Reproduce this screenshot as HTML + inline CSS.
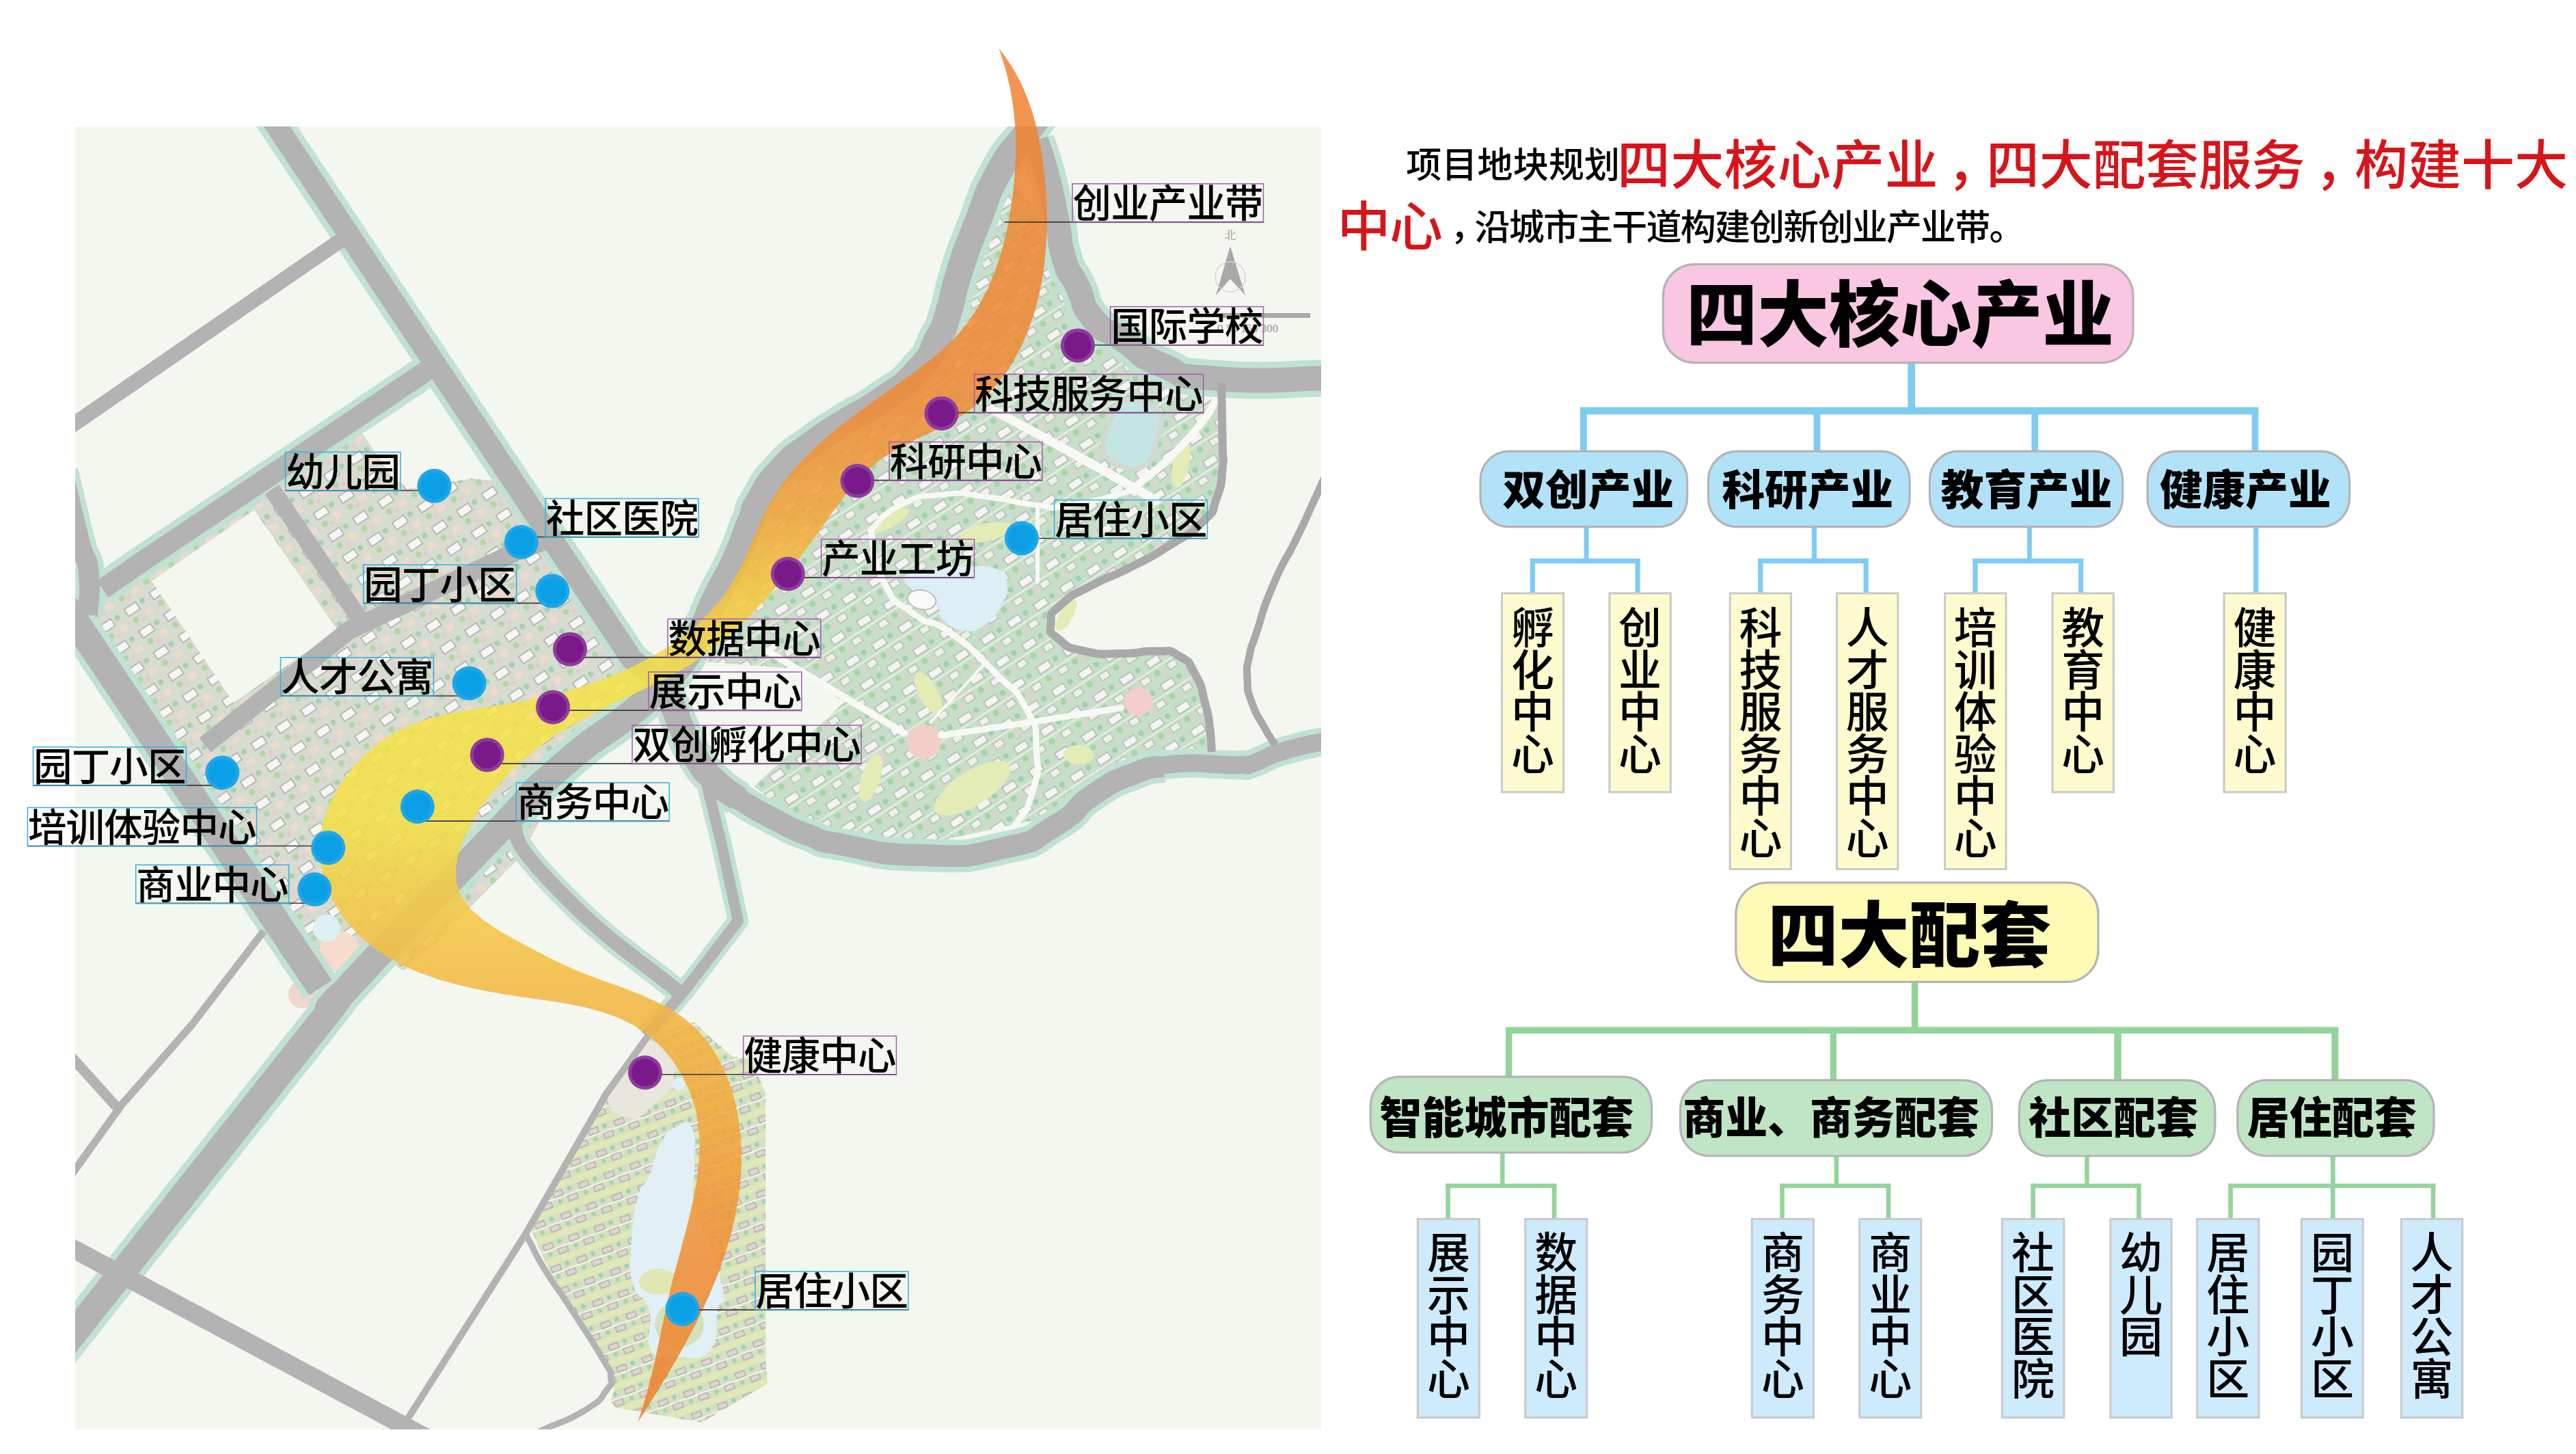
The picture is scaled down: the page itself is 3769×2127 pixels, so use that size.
<!DOCTYPE html><html lang="zh"><head><meta charset="utf-8"><title>项目地块规划</title>
<style>html,body{margin:0;padding:0;background:#fff}body{width:3769px;height:2127px;overflow:hidden;position:relative}svg{position:absolute;left:0;top:0}text{font-family:"Liberation Sans","Noto Sans CJK SC",sans-serif}</style></head><body>
<svg xmlns="http://www.w3.org/2000/svg" width="3769" height="2127" viewBox="0 0 3769 2127">
<defs>
<clipPath id="mapclip"><rect x="110" y="185" width="1823" height="1906"/></clipPath>
<linearGradient id="rib" gradientUnits="userSpaceOnUse" x1="0" y1="70" x2="0" y2="2090">
<stop offset="0" stop-color="#ee8234"/>
<stop offset="0.26" stop-color="#f08a35"/>
<stop offset="0.335" stop-color="#f3a238"/>
<stop offset="0.40" stop-color="#f5c83e"/>
<stop offset="0.455" stop-color="#f5e248"/>
<stop offset="0.56" stop-color="#f4e046"/>
<stop offset="0.61" stop-color="#f5cc44"/>
<stop offset="0.68" stop-color="#f4b840"/>
<stop offset="0.78" stop-color="#f3a53a"/>
<stop offset="0.88" stop-color="#f08c32"/>
<stop offset="1" stop-color="#ee7f2c"/>
</linearGradient>
<pattern id="tex" width="46" height="40" patternUnits="userSpaceOnUse" patternTransform="rotate(-33)">
<rect width="46" height="40" fill="#c7dfc9"/>
<rect x="4" y="5" width="20" height="11" fill="#f4f4f2" stroke="#a9a9a9" stroke-width="1.2"/>
<rect x="28" y="24" width="14" height="10" fill="#eef0ea" stroke="#a9a9a9" stroke-width="1"/>
<circle cx="34" cy="9" r="4" fill="#9fcfb4"/><circle cx="10" cy="28" r="4.5" fill="#a8d4a6"/><circle cx="20" cy="33" r="3" fill="#f2c9d0"/>
<rect x="0" y="19" width="46" height="2.5" fill="#e6ecdf"/>
</pattern>
<pattern id="tex2" width="40" height="34" patternUnits="userSpaceOnUse" patternTransform="rotate(-20)">
<rect width="40" height="34" fill="#d3e1c1"/>
<rect x="0" y="0" width="40" height="9" fill="#e0e8b8"/>
<rect x="3" y="12" width="14" height="8" fill="#dcd5d0" stroke="#a8a5a2" stroke-width="1.2"/>
<rect x="22" y="24" width="14" height="8" fill="#dcd5d0" stroke="#a8a5a2" stroke-width="1.2"/>
<circle cx="28" cy="14" r="3.2" fill="#9fcfb4"/><circle cx="9" cy="28" r="3.2" fill="#a8d4a6"/>
<rect x="0" y="21" width="40" height="2.2" fill="#f2f4ec"/>
</pattern>
<pattern id="tex3" width="44" height="38" patternUnits="userSpaceOnUse" patternTransform="rotate(-34)">
<rect width="44" height="38" fill="#d6dccf"/>
<rect x="4" y="5" width="20" height="12" fill="#f6f6f4" stroke="#a0a0a0" stroke-width="1.3"/>
<rect x="27" y="22" width="12" height="10" fill="#f0d9cf"/>
<circle cx="33" cy="9" r="4" fill="#a6d0b4"/><circle cx="10" cy="27" r="4.5" fill="#b4d6a6"/><circle cx="20" cy="32" r="3" fill="#efc4cf"/>
</pattern>
</defs>
<g clip-path="url(#mapclip)">
<rect x="110" y="185" width="1823" height="1906" fill="#f3f7ef"/>
<path d="M1478.0,262.0 L1528.0,322.0 L1539.0,382.0 L1558.0,425.0 L1583.0,476.0 L1630.0,512.0 L1692.0,551.0 L1782.0,573.0 L1788.7,650.0 L1788.7,684.0 L1780.0,729.0 L1759.5,763.5 L1711.0,798.0 L1656.0,829.0 L1598.0,856.0 L1553.0,884.0 L1537.7,911.0 L1549.7,935.4 L1587.6,952.6 L1642.6,956.0 L1690.7,952.6 L1725.0,959.5 L1749.0,987.0 L1763.0,1028.0 L1769.8,1062.6 L1773.0,1100.0 L1725.0,1100.0 L1656.0,1117.0 L1600.0,1155.0 L1522.0,1198.0 L1350.0,1235.0 L1234.0,1220.0 L1150.0,1192.0 L1104.0,1150.0 L1234.0,1028.0 L1172.0,979.0 L1030.0,968.0 L1022.0,928.0 L1048.0,873.0 L1076.0,818.0 L1097.0,765.0 L1111.0,731.0 L1143.0,687.0 L1185.0,651.0 L1235.0,618.0 L1288.0,586.0 L1343.0,542.0 L1373.0,494.0 L1387.0,461.0 L1405.0,395.0 L1429.0,328.0 L1455.0,275.0" fill="url(#tex)"/>
<path d="M1323.9,851.0 C1318.9,838.6 1325.5,841.3 1348.7,835.4 C1371.9,829.5 1381.9,829.9 1410.9,829.0 C1439.9,828.1 1441.0,826.1 1457.6,832.0 C1474.2,837.9 1470.5,837.7 1473.0,851.0 C1475.5,864.3 1475.3,865.5 1467.0,882.0 C1458.7,898.5 1456.9,902.2 1442.0,913.0 C1427.1,923.8 1427.5,924.0 1411.0,922.4 C1394.5,920.8 1391.6,917.8 1380.0,907.0 C1368.4,896.2 1382.4,896.9 1367.4,882.0 C1352.4,867.1 1328.9,863.4 1323.9,851.0Z" fill="#dceff6"/>
<ellipse cx="1348.7" cy="877.3" rx="21" ry="14" fill="#fafafa" stroke="#bdbdbd" stroke-width="2" transform="rotate(12 1348.7 877.3)"/>
<rect x="1620" y="585" width="74" height="100" rx="30" fill="#c3e6e4" stroke="#d2d8d2" stroke-width="7" transform="rotate(18 1657 635)"/>
<ellipse cx="1423" cy="1153" rx="64" ry="25" fill="#e4ecb6" transform="rotate(-32 1423 1153)"/>
<ellipse cx="1274" cy="1138" rx="14" ry="36" fill="#e4ecb6" transform="rotate(18 1274 1138)"/>
<ellipse cx="1358" cy="1014" rx="14" ry="34" fill="#e4ecb6" transform="rotate(-28 1358 1014)"/>
<ellipse cx="1578" cy="1104" rx="22" ry="14" fill="#e4ecb6" transform="rotate(0 1578 1104)"/>
<ellipse cx="1442" cy="779" rx="40" ry="13" fill="#e4ecb6" transform="rotate(-12 1442 779)"/>
<ellipse cx="1728" cy="680" rx="12" ry="34" fill="#e4ecb6" transform="rotate(12 1728 680)"/>
<ellipse cx="1560" cy="900" rx="10" ry="26" fill="#e4ecb6" transform="rotate(30 1560 900)"/>
<ellipse cx="1300" cy="762" rx="34" ry="10" fill="#e4ecb6" transform="rotate(-30 1300 762)"/>
<circle cx="1351.6" cy="1085" r="25" fill="#f1cfc8"/>
<circle cx="1665.6" cy="1026" r="21" fill="#f3cdd0"/>
<circle cx="1392" cy="1283" r="0" fill="none"/>
<path d="M1457.6,602.0 C1491.7,620.7 1492.7,620.7 1560.0,658.0 C1627.3,695.3 1616.0,689.1 1659.6,714.0 C1703.2,738.9 1680.3,726.5 1690.7,732.8" fill="none" stroke="#f8f9f5" stroke-width="13" stroke-linecap="round"/>
<path d="M1659.6,714.0 C1685.5,690.2 1695.9,688.3 1737.4,642.6 C1778.9,596.9 1768.5,598.9 1784.0,577.0" fill="none" stroke="#f8f9f5" stroke-width="11" stroke-linecap="round"/>
<path d="M1274.0,776.0 C1288.5,763.7 1282.3,756.5 1317.6,739.0 C1352.9,721.5 1338.3,727.6 1379.8,723.4 C1421.3,719.2 1396.4,721.3 1442.0,726.5 C1487.6,731.7 1475.1,734.8 1516.6,739.0 C1558.1,743.2 1518.7,746.3 1566.4,739.0 C1614.1,731.7 1628.5,724.3 1659.6,717.0" fill="none" stroke="#f8f9f5" stroke-width="8" stroke-linecap="round"/>
<path d="M1274.0,776.0 C1280.3,801.0 1272.0,810.5 1292.8,851.0 C1313.6,891.5 1303.2,872.3 1336.3,897.5 C1369.4,922.7 1352.7,898.2 1392.0,926.6 C1431.3,955.0 1417.9,946.3 1454.2,982.6 C1490.5,1018.9 1480.1,997.2 1500.8,1035.5 C1521.5,1073.8 1513.3,1056.2 1516.4,1097.6 C1519.5,1139.0 1520.6,1123.5 1510.2,1159.8 C1499.8,1196.1 1498.8,1185.8 1485.3,1206.5 C1471.8,1227.2 1474.9,1216.8 1469.7,1222.0" fill="none" stroke="#f8f9f5" stroke-width="9" stroke-linecap="round"/>
<path d="M1518.0,739.0 L1518.0,851.0" fill="none" stroke="#f8f9f5" stroke-width="6" stroke-linecap="round"/>
<path d="M1121.5,951.5 L1323.6,1072.8" fill="none" stroke="#f8f9f5" stroke-width="10" stroke-linecap="round"/>
<path d="M1376.5,1076.0 C1419.0,1069.7 1415.9,1070.5 1504.0,1057.0 C1592.1,1043.5 1595.1,1042.7 1640.7,1035.5" fill="none" stroke="#f8f9f5" stroke-width="9" stroke-linecap="round"/>
<path d="M1361.0,1057.0 L1438.6,973.3" fill="none" stroke="#f8f9f5" stroke-width="4" stroke-linecap="round"/>
<path d="M150.0,862.0 L636.0,534.5 L925.0,965.0 L976.0,1006.0 L931.0,1037.0 L814.0,1127.0 L715.0,1230.0 L510.0,1444.0 L469.0,1445.0 L100.0,893.0 L110.0,870.0" fill="url(#tex3)"/>
<path d="M222.0,850.0 L372.0,746.0 L494.0,922.0 L342.0,1028.0" fill="#f3f7ef"/>
<path d="M530.0,634.0 L636.0,562.0 L740.0,705.0 L690.0,700.0 L600.0,715.0 L575.0,700.0" fill="#f3f7ef"/>
<path d="M715.0,1230.0 L760.0,1185.0 L790.0,1200.0 L760.0,1255.0 L700.0,1315.0 L640.0,1378.0 L590.0,1420.0 L560.0,1400.0" fill="url(#tex3)"/>
<path d="M945.0,1515.0 L1015.0,1495.0 L1070.0,1545.0 L1100.0,1550.0 L1120.0,1600.0 L1120.4,1990.0 L1123.0,2024.0 L1027.0,2081.0 L901.0,2059.0 L893.0,2051.0 L899.0,2033.0 L891.0,1995.0 L856.0,1946.0 L818.0,1888.0 L794.0,1838.0 L778.0,1800.0 L887.0,1600.0" fill="url(#tex2)"/>
<path d="M945.0,1517.0 L990.0,1540.0 L985.0,1590.0 L930.0,1640.0 L893.0,1625.0 L887.0,1600.0" fill="#e9e6dd"/>
<path d="M990.0,1648.0 C1002.3,1641.6 1005.1,1636.1 1012.0,1650.0 C1018.9,1663.9 1015.2,1670.7 1016.0,1700.0 C1016.8,1729.3 1011.3,1733.3 1015.0,1760.0 C1018.7,1786.7 1018.5,1765.9 1030.0,1800.0 C1041.5,1834.1 1052.7,1856.8 1058.0,1888.0 C1063.3,1919.2 1055.1,1893.8 1050.0,1917.0 C1044.9,1940.2 1054.5,1956.9 1039.0,1975.0 C1023.5,1993.1 1014.9,1985.0 992.0,1985.0 C969.1,1985.0 964.2,1993.1 953.0,1975.0 C941.8,1956.9 957.2,1942.9 950.0,1917.0 C942.8,1891.1 932.9,1903.9 926.0,1878.0 C919.1,1852.1 922.1,1853.6 924.0,1820.0 C925.9,1786.4 926.1,1778.7 933.0,1752.0 C939.9,1725.3 941.2,1740.8 950.0,1720.0 C958.8,1699.2 955.3,1693.2 966.0,1674.0 C976.7,1654.8 977.7,1654.4 990.0,1648.0Z" fill="#e1f0f6"/>
<ellipse cx="963" cy="1875" rx="28" ry="19" fill="#dfe8b4"/>
<ellipse cx="994" cy="1937" rx="36" ry="34" fill="#d3e2bd"/>
<ellipse cx="993" cy="1586" rx="10" ry="9" fill="#e1f0f6"/>
<circle cx="442" cy="1455" r="20" fill="#f0d6cc"/>
<circle cx="497" cy="1392" r="30" fill="#f5dccb"/>
<circle cx="478" cy="1358" r="20" fill="#dff0f5"/>
<path d="M60.0,2011.0 C120.6,1934.7 106.6,1952.3 241.7,1782.0 C376.8,1611.7 376.0,1612.7 465.4,1500.0 C554.8,1387.3 426.6,1534.0 509.8,1444.0 C593.0,1354.0 613.4,1335.7 715.0,1230.0 C816.6,1124.3 742.7,1191.3 814.7,1127.0 C886.7,1062.7 874.2,1084.3 931.0,1037.0 C987.8,989.7 954.7,1021.3 985.0,985.0 C1015.3,948.7 1001.0,965.3 1022.0,928.0 C1043.0,890.7 1030.0,909.7 1048.0,873.0 C1066.0,836.3 1059.7,854.0 1076.0,818.0 C1092.3,782.0 1085.2,793.9 1097.0,765.0 C1108.8,736.1 1096.0,757.3 1111.4,731.2 C1126.8,705.1 1118.6,713.3 1143.2,686.7 C1167.8,660.1 1154.5,674.3 1185.2,651.3 C1215.9,628.3 1201.2,639.4 1235.4,617.8 C1269.6,596.2 1252.1,611.6 1287.9,586.4 C1323.7,561.2 1314.3,573.1 1342.7,542.2 C1371.1,511.3 1358.4,520.7 1373.0,493.6 C1387.6,466.5 1376.1,493.8 1386.6,460.9 C1397.1,428.0 1390.4,439.2 1404.6,395.0 C1418.8,350.8 1410.3,375.8 1429.1,328.2 C1447.9,280.6 1437.2,296.3 1461.1,252.3 C1485.0,208.3 1479.2,226.6 1500.8,196.3 C1522.4,166.0 1517.5,173.0 1525.8,161.4" fill="none" stroke="#bfe2d3" stroke-width="57" stroke-linejoin="round"/>
<path d="M395.0,170.0 L925.0,965.0 L976.0,1006.0" fill="none" stroke="#bfe2d3" stroke-width="50" stroke-linejoin="round"/>
<path d="M966.0,1000.0 C972.3,1011.7 974.7,1013.5 985.0,1035.0 C995.3,1056.5 986.5,1041.1 997.0,1064.5 C1007.5,1087.9 1000.3,1079.5 1016.5,1105.3 C1032.7,1131.1 1024.3,1121.0 1045.6,1142.0 C1066.9,1163.0 1068.9,1159.6 1080.5,1168.4" fill="none" stroke="#bfe2d3" stroke-width="53" stroke-linejoin="round"/>
<path d="M966.0,1000.0 C972.3,1011.7 974.7,1013.5 985.0,1035.0 C995.3,1056.5 986.5,1041.1 997.0,1064.5 C1007.5,1087.9 1000.3,1079.5 1016.5,1105.3 C1032.7,1131.1 1024.3,1121.0 1045.6,1142.0 C1066.9,1163.0 1051.4,1149.6 1080.5,1168.4 C1109.6,1187.2 1099.3,1180.9 1132.9,1198.4 C1166.5,1215.9 1147.7,1208.3 1181.4,1220.8 C1215.1,1233.3 1177.8,1225.9 1234.0,1236.0 C1290.2,1246.1 1272.5,1249.3 1350.0,1251.0 C1427.5,1252.7 1401.8,1255.5 1466.5,1241.0 C1531.2,1226.5 1498.8,1234.3 1544.0,1207.6 C1589.2,1180.9 1563.1,1186.5 1602.0,1161.0 C1640.9,1135.5 1627.9,1144.3 1660.6,1131.0 C1693.3,1117.7 1686.9,1124.3 1700.0,1121.0" fill="none" stroke="#bfe2d3" stroke-width="48" stroke-linejoin="round"/>
<path d="M1690.0,1121.0 C1706.0,1119.5 1709.0,1117.4 1738.0,1116.4 C1767.0,1115.4 1751.0,1117.1 1777.0,1118.0 C1803.0,1118.9 1796.7,1119.7 1816.0,1119.0 C1835.3,1118.3 1813.7,1123.0 1835.0,1116.0 C1856.3,1109.0 1843.3,1109.0 1880.0,1098.0 C1916.7,1087.0 1923.3,1088.0 1945.0,1083.0" fill="none" stroke="#bfe2d3" stroke-width="42" stroke-linejoin="round"/>
<path d="M1516.0,205.0 C1521.7,223.3 1523.0,221.7 1533.0,260.0 C1543.0,298.3 1538.0,280.3 1546.0,320.0 C1554.0,359.7 1547.0,346.3 1557.0,379.0 C1567.0,411.7 1561.7,388.7 1576.0,418.0 C1590.3,447.3 1577.7,440.7 1600.0,467.0 C1622.3,493.3 1609.7,474.7 1643.0,497.0 C1676.3,519.3 1653.7,515.0 1700.0,534.0 C1746.3,553.0 1700.3,547.7 1782.0,554.0 C1863.7,560.3 1890.7,553.3 1945.0,553.0" fill="none" stroke="#bfe2d3" stroke-width="54" stroke-linejoin="round"/>
<path d="M636.0,534.5 L203.0,825.0 L150.0,862.0" fill="none" stroke="#bfe2d3" stroke-width="48" stroke-linejoin="round"/>
<path d="M92.0,690.0 C96.7,710.0 97.3,714.0 106.0,750.0 C114.7,786.0 110.0,768.0 118.0,798.0 C126.0,828.0 126.7,806.0 130.0,840.0 C133.3,874.0 128.7,880.0 128.0,900.0" fill="none" stroke="#bfe2d3" stroke-width="46" stroke-linejoin="round"/>
<path d="M95.0,886.0 L469.0,1445.0" fill="none" stroke="#bfe2d3" stroke-width="58" stroke-linejoin="round"/>
<path d="M745.0,1195.0 C768.3,1230.0 732.0,1214.3 815.0,1300.0 C898.0,1385.7 934.3,1401.3 994.0,1452.0" fill="none" stroke="#bfe2d3" stroke-width="35" stroke-linejoin="round"/>
<path d="M1028.0,1122.0 L1047.5,1202.0 L1055.0,1232.0 L1080.0,1347.0 L1000.0,1451.0 L945.0,1515.0" fill="none" stroke="#bfe2d3" stroke-width="30" stroke-linejoin="round"/>
<path d="M60.0,2011.0 C120.6,1934.7 106.6,1952.3 241.7,1782.0 C376.8,1611.7 376.0,1612.7 465.4,1500.0 C554.8,1387.3 426.6,1534.0 509.8,1444.0 C593.0,1354.0 613.4,1335.7 715.0,1230.0 C816.6,1124.3 742.7,1191.3 814.7,1127.0 C886.7,1062.7 874.2,1084.3 931.0,1037.0 C987.8,989.7 954.7,1021.3 985.0,985.0 C1015.3,948.7 1001.0,965.3 1022.0,928.0 C1043.0,890.7 1030.0,909.7 1048.0,873.0 C1066.0,836.3 1059.7,854.0 1076.0,818.0 C1092.3,782.0 1085.2,793.9 1097.0,765.0 C1108.8,736.1 1096.0,757.3 1111.4,731.2 C1126.8,705.1 1118.6,713.3 1143.2,686.7 C1167.8,660.1 1154.5,674.3 1185.2,651.3 C1215.9,628.3 1201.2,639.4 1235.4,617.8 C1269.6,596.2 1252.1,611.6 1287.9,586.4 C1323.7,561.2 1314.3,573.1 1342.7,542.2 C1371.1,511.3 1358.4,520.7 1373.0,493.6 C1387.6,466.5 1376.1,493.8 1386.6,460.9 C1397.1,428.0 1390.4,439.2 1404.6,395.0 C1418.8,350.8 1410.3,375.8 1429.1,328.2 C1447.9,280.6 1437.2,296.3 1461.1,252.3 C1485.0,208.3 1479.2,226.6 1500.8,196.3 C1522.4,166.0 1517.5,173.0 1525.8,161.4" fill="none" stroke="#b3b3b3" stroke-width="39" stroke-linejoin="round"/>
<path d="M395.0,170.0 L925.0,965.0 L976.0,1006.0" fill="none" stroke="#b3b3b3" stroke-width="32" stroke-linejoin="round"/>
<path d="M966.0,1000.0 C972.3,1011.7 974.7,1013.5 985.0,1035.0 C995.3,1056.5 986.5,1041.1 997.0,1064.5 C1007.5,1087.9 1000.3,1079.5 1016.5,1105.3 C1032.7,1131.1 1024.3,1121.0 1045.6,1142.0 C1066.9,1163.0 1068.9,1159.6 1080.5,1168.4" fill="none" stroke="#b3b3b3" stroke-width="37" stroke-linejoin="round"/>
<path d="M966.0,1000.0 C972.3,1011.7 974.7,1013.5 985.0,1035.0 C995.3,1056.5 986.5,1041.1 997.0,1064.5 C1007.5,1087.9 1000.3,1079.5 1016.5,1105.3 C1032.7,1131.1 1024.3,1121.0 1045.6,1142.0 C1066.9,1163.0 1051.4,1149.6 1080.5,1168.4 C1109.6,1187.2 1099.3,1180.9 1132.9,1198.4 C1166.5,1215.9 1147.7,1208.3 1181.4,1220.8 C1215.1,1233.3 1177.8,1225.9 1234.0,1236.0 C1290.2,1246.1 1272.5,1249.3 1350.0,1251.0 C1427.5,1252.7 1401.8,1255.5 1466.5,1241.0 C1531.2,1226.5 1498.8,1234.3 1544.0,1207.6 C1589.2,1180.9 1563.1,1186.5 1602.0,1161.0 C1640.9,1135.5 1627.9,1144.3 1660.6,1131.0 C1693.3,1117.7 1686.9,1124.3 1700.0,1121.0" fill="none" stroke="#b3b3b3" stroke-width="32" stroke-linejoin="round"/>
<path d="M1690.0,1121.0 C1706.0,1119.5 1709.0,1117.4 1738.0,1116.4 C1767.0,1115.4 1751.0,1117.1 1777.0,1118.0 C1803.0,1118.9 1796.7,1119.7 1816.0,1119.0 C1835.3,1118.3 1813.7,1123.0 1835.0,1116.0 C1856.3,1109.0 1843.3,1109.0 1880.0,1098.0 C1916.7,1087.0 1923.3,1088.0 1945.0,1083.0" fill="none" stroke="#b3b3b3" stroke-width="26" stroke-linejoin="round"/>
<path d="M1516.0,205.0 C1521.7,223.3 1523.0,221.7 1533.0,260.0 C1543.0,298.3 1538.0,280.3 1546.0,320.0 C1554.0,359.7 1547.0,346.3 1557.0,379.0 C1567.0,411.7 1561.7,388.7 1576.0,418.0 C1590.3,447.3 1577.7,440.7 1600.0,467.0 C1622.3,493.3 1609.7,474.7 1643.0,497.0 C1676.3,519.3 1653.7,515.0 1700.0,534.0 C1746.3,553.0 1700.3,547.7 1782.0,554.0 C1863.7,560.3 1890.7,553.3 1945.0,553.0" fill="none" stroke="#b3b3b3" stroke-width="36" stroke-linejoin="round"/>
<path d="M1787.0,560.0 C1787.6,590.0 1788.1,608.7 1788.7,650.0 C1789.3,691.3 1791.6,657.7 1788.7,684.0 C1785.8,710.3 1789.7,702.5 1780.0,729.0 C1770.3,755.5 1782.5,740.5 1759.5,763.5 C1736.5,786.5 1745.5,776.2 1711.0,798.0 C1676.5,819.8 1693.7,809.7 1656.0,829.0 C1618.3,848.3 1632.3,837.7 1598.0,856.0 C1563.7,874.3 1573.1,865.7 1553.0,884.0 C1532.9,902.3 1538.8,893.9 1537.7,911.0 C1536.6,928.1 1533.1,921.5 1549.7,935.4 C1566.3,949.3 1556.6,945.7 1587.6,952.6 C1618.6,959.5 1608.2,956.0 1642.6,956.0 C1677.0,956.0 1663.2,951.4 1690.7,952.6 C1718.2,953.8 1705.6,948.0 1725.0,959.5 C1744.4,971.0 1736.3,964.2 1749.0,987.0 C1761.7,1009.8 1756.1,1002.8 1763.0,1028.0 C1769.9,1053.2 1766.5,1038.6 1769.8,1062.6 C1773.1,1086.6 1771.9,1087.5 1773.0,1100.0" fill="none" stroke="#a9a9a9" stroke-width="12" stroke-linejoin="round"/>
<path d="M500.0,350.5 L100.0,626.0" fill="none" stroke="#b3b3b3" stroke-width="22" stroke-linejoin="round"/>
<path d="M636.0,534.5 L203.0,825.0 L150.0,862.0" fill="none" stroke="#b3b3b3" stroke-width="30" stroke-linejoin="round"/>
<path d="M92.0,690.0 C96.7,710.0 97.3,714.0 106.0,750.0 C114.7,786.0 110.0,768.0 118.0,798.0 C126.0,828.0 126.7,806.0 130.0,840.0 C133.3,874.0 128.7,880.0 128.0,900.0" fill="none" stroke="#b3b3b3" stroke-width="30" stroke-linejoin="round"/>
<path d="M95.0,886.0 L469.0,1445.0" fill="none" stroke="#b3b3b3" stroke-width="40" stroke-linejoin="round"/>
<path d="M300.0,1090.0 L511.0,922.0 L755.0,807.0 L800.0,790.0" fill="none" stroke="#b3b3b3" stroke-width="27" stroke-linejoin="round"/>
<path d="M398.0,716.0 L535.0,918.0" fill="none" stroke="#b3b3b3" stroke-width="25" stroke-linejoin="round"/>
<path d="M745.0,1195.0 C768.3,1230.0 732.0,1214.3 815.0,1300.0 C898.0,1385.7 934.3,1401.3 994.0,1452.0" fill="none" stroke="#b3b3b3" stroke-width="21" stroke-linejoin="round"/>
<path d="M1028.0,1122.0 L1047.5,1202.0 L1055.0,1232.0 L1080.0,1347.0 L1000.0,1451.0 L945.0,1515.0" fill="none" stroke="#b3b3b3" stroke-width="16" stroke-linejoin="round"/>
<path d="M994.0,1452.0 L887.0,1600.0 L769.0,1805.0 L600.0,2070.0 L585.0,2095.0" fill="none" stroke="#b3b3b3" stroke-width="10" stroke-linejoin="round"/>
<path d="M100.0,1823.0 L171.0,1861.0 L601.0,2091.0 L640.0,2112.0" fill="none" stroke="#b3b3b3" stroke-width="27" stroke-linejoin="round"/>
<path d="M786.0,2096.0 C790.0,2094.0 774.5,2101.1 798.0,2090.0 C821.5,2078.9 826.7,2081.4 856.5,2062.6 C886.3,2043.8 875.2,2049.7 887.5,2033.5 C899.8,2017.3 894.6,2028.2 893.3,2014.0 C892.0,1999.8 902.4,2023.1 883.6,1990.8 C864.8,1958.5 865.5,1961.0 837.0,1917.0 C808.5,1873.0 818.2,1891.1 798.2,1858.8 C778.2,1826.5 786.6,1837.9 776.9,1820.0 C767.2,1802.1 771.6,1810.0 769.0,1805.0" fill="none" stroke="#b3b3b3" stroke-width="9" stroke-linejoin="round"/>
<path d="M386.0,1362.0 L280.0,1500.0 L177.6,1616.5 L100.0,1725.0" fill="none" stroke="#b3b3b3" stroke-width="11" stroke-linejoin="round"/>
<path d="M100.0,1541.0 L168.0,1616.5 L180.0,1622.0" fill="none" stroke="#b3b3b3" stroke-width="15" stroke-linejoin="round"/>
<path d="M1945.0,683.0 C1937.0,700.7 1937.0,701.2 1921.0,736.0 C1905.0,770.8 1916.5,747.5 1897.0,787.5 C1877.5,827.5 1882.1,810.2 1862.6,856.0 C1843.1,901.8 1850.1,890.5 1838.6,925.0 C1827.1,959.5 1832.5,936.5 1828.0,959.5 C1823.5,982.5 1823.8,971.2 1825.0,994.0 C1826.2,1016.8 1823.7,1005.1 1831.7,1028.0 C1839.7,1050.9 1837.6,1041.9 1849.0,1062.6 C1860.4,1083.3 1860.3,1080.9 1866.0,1090.0" fill="none" stroke="#a9a9a9" stroke-width="11" stroke-linejoin="round"/>
<path d="M1800,360 L1822,432 L1800,408 L1779,432 Z" fill="#a8a8a8"/>
<circle cx="1800" cy="405" r="22" fill="none" stroke="#d5d5d5" stroke-width="1.5"/>
<text x="1800" y="350" font-size="17" fill="#999" text-anchor="middle" style="font-family:'Liberation Serif','Noto Serif CJK SC',serif">北</text>
<rect x="1782" y="458" width="135" height="7" fill="#a9a9a9"/>
<text x="1781" y="486" font-size="17" fill="#999" style="font-family:'Liberation Serif',serif">0  50  150      300</text>
</g>
<path d="M1461.4,70.5 C1466.4,77.4 1467.2,77.3 1476.4,91.3 C1485.6,105.4 1481.3,98.3 1489.0,112.6 C1496.6,127.0 1493.1,119.7 1499.4,134.4 C1505.7,149.0 1502.8,141.6 1507.9,156.6 C1513.0,171.6 1510.6,164.0 1514.7,179.3 C1518.7,194.7 1516.9,186.9 1520.1,202.6 C1523.3,218.3 1521.8,210.4 1524.3,226.4 C1526.9,242.5 1525.8,234.4 1527.7,250.8 C1529.6,267.3 1528.8,259.0 1530.1,275.7 C1531.3,292.4 1530.9,284.0 1531.4,300.9 C1532.0,317.7 1531.9,309.3 1531.8,326.2 C1531.6,343.2 1531.9,334.7 1531.0,351.6 C1530.0,368.5 1530.7,360.1 1529.0,376.9 C1527.2,393.7 1528.3,385.4 1525.7,401.9 C1523.1,418.4 1524.7,410.3 1521.1,426.5 C1517.6,442.7 1519.6,434.8 1515.2,450.6 C1510.7,466.4 1513.2,458.6 1507.7,473.9 C1502.3,489.2 1505.3,481.8 1498.8,496.5 C1492.3,511.2 1495.8,504.0 1488.3,518.0 C1480.7,532.0 1484.8,525.3 1476.1,538.5 C1467.4,551.7 1472.0,545.3 1462.2,557.7 C1452.3,570.0 1457.6,564.1 1446.5,575.4 C1435.4,586.8 1441.3,581.4 1429.0,591.6 C1416.7,601.9 1423.1,597.1 1409.5,606.2 C1395.9,615.3 1402.9,610.8 1388.2,619.0 C1373.6,627.1 1380.8,623.0 1365.6,630.5 C1350.4,638.1 1357.8,634.2 1342.6,641.7 C1327.3,649.2 1334.6,645.2 1319.9,653.2 C1305.1,661.2 1312.0,656.7 1298.3,665.7 C1284.6,674.7 1291.1,669.8 1278.8,680.0 C1266.4,690.2 1272.4,685.0 1261.2,696.3 C1250.1,707.6 1255.6,701.8 1245.3,714.1 C1235.0,726.3 1240.1,720.1 1230.4,733.0 C1220.7,745.8 1225.6,739.4 1216.1,752.6 C1206.6,765.7 1211.4,759.2 1201.9,772.5 C1192.3,785.8 1197.2,779.2 1187.4,792.4 C1177.7,805.7 1182.6,799.1 1172.6,812.2 C1162.6,825.4 1167.7,818.9 1157.5,831.8 C1147.2,844.8 1152.4,838.4 1141.9,851.1 C1131.4,863.8 1136.7,857.5 1125.9,869.9 C1115.1,882.2 1120.6,876.2 1109.4,888.1 C1098.2,900.1 1103.9,894.3 1092.3,905.7 C1080.8,917.2 1086.7,911.6 1074.7,922.5 C1062.7,933.4 1068.8,928.2 1056.4,938.5 C1044.0,948.7 1050.3,943.8 1037.4,953.4 C1024.5,963.0 1031.1,958.4 1017.7,967.2 C1004.4,976.0 1011.1,971.7 997.3,979.8 C983.4,987.9 990.4,983.9 976.2,991.4 C961.9,998.9 969.1,995.2 954.5,1002.3 C940.0,1009.5 947.3,1005.9 932.6,1012.8 C917.8,1019.8 925.2,1016.2 910.4,1023.2 C895.6,1030.2 902.9,1026.6 888.1,1033.8 C873.3,1041.0 880.7,1037.2 866.0,1044.9 C851.3,1052.5 858.5,1048.4 844.0,1056.7 C829.6,1064.9 836.7,1060.6 822.5,1069.6 C808.4,1078.6 815.3,1073.9 801.6,1083.7 C787.8,1093.4 794.5,1088.4 781.4,1098.9 C768.2,1109.5 774.6,1104.0 762.0,1115.3 C749.5,1126.6 755.5,1120.8 743.8,1132.7 C732.1,1144.7 737.7,1138.6 726.9,1151.2 C716.1,1163.9 721.2,1157.4 711.4,1170.8 C701.6,1184.1 706.1,1177.3 697.5,1191.3 C688.8,1205.3 692.7,1198.2 685.4,1212.7 C678.1,1227.3 681.0,1220.1 675.6,1234.9 C670.2,1249.8 672.0,1242.5 669.2,1257.3 C666.4,1272.1 666.7,1264.9 667.3,1279.3 C667.8,1293.6 666.3,1286.8 670.9,1300.4 C675.5,1313.9 672.2,1307.5 681.2,1320.0 C690.2,1332.4 685.2,1326.5 697.9,1337.8 C710.6,1349.1 704.2,1343.7 719.2,1353.9 C734.2,1364.2 727.0,1359.3 742.9,1368.5 C758.7,1377.8 751.4,1373.3 766.8,1381.7 C782.3,1390.0 774.8,1386.0 789.2,1393.5 C803.6,1401.1 796.3,1397.4 810.1,1404.3 C824.0,1411.1 816.7,1407.8 830.8,1414.1 C844.9,1420.4 837.6,1417.3 852.4,1423.2 C867.2,1429.2 859.8,1426.1 875.4,1431.9 C891.0,1437.7 883.2,1434.7 899.2,1440.6 C915.2,1446.5 907.3,1443.3 923.3,1449.6 C939.3,1455.9 931.6,1452.5 947.1,1459.4 C962.6,1466.4 955.2,1462.6 969.9,1470.5 C984.7,1478.4 977.8,1474.0 991.3,1483.2 C1004.8,1492.3 998.5,1487.3 1010.5,1497.8 C1022.5,1508.4 1016.8,1502.8 1027.2,1514.7 C1037.6,1526.5 1032.8,1520.4 1041.7,1533.4 C1050.5,1546.5 1046.4,1539.8 1053.8,1553.8 C1061.2,1567.9 1057.9,1560.7 1063.8,1575.6 C1069.8,1590.5 1067.1,1583.0 1071.8,1598.5 C1076.4,1614.1 1074.4,1606.3 1077.7,1622.3 C1081.1,1638.4 1079.7,1630.3 1081.8,1646.7 C1084.0,1663.1 1083.2,1655.0 1084.1,1671.5 C1085.1,1688.0 1084.9,1679.8 1084.7,1696.4 C1084.6,1712.9 1084.9,1704.7 1083.8,1721.1 C1082.6,1737.5 1083.4,1729.3 1081.3,1745.6 C1079.2,1761.8 1080.4,1753.8 1077.4,1769.9 C1074.4,1786.0 1076.1,1778.0 1072.3,1793.9 C1068.5,1809.9 1070.5,1801.9 1065.9,1817.7 C1061.3,1833.5 1063.8,1825.7 1058.5,1841.3 C1053.2,1856.9 1056.0,1849.2 1050.1,1864.6 C1044.1,1880.0 1047.2,1872.4 1040.7,1887.6 C1034.3,1902.9 1037.6,1895.3 1030.6,1910.3 C1023.6,1925.4 1027.2,1917.9 1019.8,1932.8 C1012.4,1947.6 1016.2,1940.3 1008.4,1954.9 C1000.6,1969.5 1004.6,1962.3 996.5,1976.7 C988.4,1991.1 992.5,1984.0 984.2,1998.2 C975.9,2012.4 980.1,2005.3 971.6,2019.3 C963.2,2033.3 967.4,2026.3 958.8,2040.1 C950.3,2053.8 954.5,2047.0 946.0,2060.5 C937.4,2074.0 937.4,2073.8 933.1,2080.5 C935.9,2071.7 936.4,2071.5 941.6,2054.1 C946.9,2036.8 944.4,2045.4 948.9,2028.3 C953.5,2011.3 951.2,2019.8 955.3,2002.9 C959.3,1986.1 957.3,1994.5 960.9,1977.8 C964.6,1961.0 962.7,1969.5 966.3,1952.7 C969.8,1936.0 968.0,1944.4 971.6,1927.6 C975.2,1910.7 973.3,1919.2 977.2,1902.2 C981.1,1885.1 979.0,1893.7 983.3,1876.4 C987.6,1859.0 985.4,1867.7 990.1,1850.1 C994.8,1832.4 992.6,1841.3 997.3,1823.4 C1002.1,1805.5 999.9,1814.4 1004.5,1796.4 C1009.0,1778.3 1007.0,1787.3 1011.1,1769.2 C1015.1,1751.1 1013.4,1760.1 1016.6,1742.1 C1019.9,1724.0 1018.7,1733.0 1020.8,1715.0 C1022.9,1697.1 1022.3,1706.0 1023.0,1688.2 C1023.7,1670.5 1023.9,1679.2 1022.9,1661.8 C1021.9,1644.3 1023.0,1652.9 1019.9,1635.8 C1016.9,1618.7 1019.0,1627.1 1013.7,1610.5 C1008.5,1593.9 1011.6,1601.9 1004.2,1586.1 C996.8,1570.4 1000.9,1577.8 991.6,1563.2 C982.3,1548.5 987.3,1555.4 976.3,1542.1 C965.3,1528.8 971.1,1534.9 958.5,1523.4 C945.9,1511.8 952.5,1517.0 938.6,1507.5 C924.6,1497.9 931.8,1502.3 916.8,1494.7 C901.7,1487.1 909.4,1490.6 893.3,1484.7 C877.3,1478.8 885.4,1481.5 868.5,1476.9 C851.6,1472.3 860.2,1474.5 842.6,1470.9 C825.1,1467.3 833.9,1469.1 815.9,1466.1 C797.9,1463.1 806.9,1464.6 788.5,1461.9 C770.2,1459.2 779.3,1460.7 760.8,1458.0 C742.4,1455.2 751.5,1456.8 733.1,1453.7 C714.6,1450.5 723.7,1452.3 705.4,1448.6 C687.1,1444.9 696.1,1447.0 678.1,1442.6 C660.1,1438.3 668.9,1440.7 651.4,1435.6 C633.9,1430.4 642.5,1433.3 625.6,1427.2 C608.7,1421.0 616.9,1424.4 600.7,1417.2 C584.6,1410.1 592.4,1414.0 577.2,1405.6 C562.0,1397.3 569.3,1401.8 555.2,1392.1 C541.0,1382.4 547.7,1387.7 534.8,1376.5 C521.9,1365.4 528.0,1371.4 516.5,1358.7 C504.9,1345.9 510.2,1352.6 500.3,1338.4 C490.4,1324.2 494.7,1331.5 486.8,1316.0 C478.9,1300.6 482.1,1308.4 476.5,1292.0 C471.0,1275.6 472.9,1283.9 470.1,1266.9 C467.2,1249.9 467.8,1258.3 467.9,1241.0 C468.0,1223.7 467.3,1232.2 470.5,1214.9 C473.7,1197.6 471.5,1206.1 477.5,1189.1 C483.6,1172.2 480.1,1180.4 488.5,1164.1 C497.0,1147.9 492.4,1155.6 503.0,1140.4 C513.5,1125.2 507.9,1132.3 520.2,1118.5 C532.6,1104.6 526.2,1111.0 539.9,1098.9 C553.6,1086.7 546.6,1092.2 561.4,1082.1 C576.1,1072.0 568.6,1076.6 584.1,1068.6 C599.7,1060.5 591.8,1064.2 608.0,1058.1 C624.1,1051.9 616.0,1054.7 632.7,1050.0 C649.4,1045.3 641.0,1047.5 658.1,1043.8 C675.2,1040.1 666.6,1041.9 684.0,1038.9 C701.4,1035.9 692.7,1037.5 710.3,1034.7 C727.8,1032.0 719.1,1033.5 736.7,1030.6 C754.4,1027.8 745.6,1029.4 763.2,1026.1 C780.9,1022.8 772.1,1024.6 789.6,1020.8 C807.1,1017.0 798.4,1019.1 815.8,1014.6 C833.1,1010.1 824.5,1012.5 841.7,1007.4 C858.8,1002.3 850.3,1005.0 867.2,999.2 C884.0,993.3 875.7,996.5 892.2,989.9 C908.7,983.3 900.6,986.8 916.7,979.4 C932.8,972.0 924.9,975.9 940.6,967.6 C956.2,959.4 948.6,963.7 963.7,954.6 C978.8,945.4 971.5,950.3 986.0,940.1 C1000.5,930.0 993.5,935.4 1007.2,924.3 C1020.9,913.1 1014.4,919.0 1027.1,906.8 C1039.8,894.7 1033.9,901.0 1045.4,887.8 C1056.9,874.5 1051.6,881.5 1061.7,867.0 C1071.8,852.6 1067.0,860.0 1075.8,844.5 C1084.5,829.1 1080.2,836.8 1087.9,820.6 C1095.6,804.3 1091.6,812.4 1098.9,795.8 C1106.1,779.3 1102.2,787.3 1109.7,770.9 C1117.1,754.5 1113.0,762.4 1121.2,746.6 C1129.4,730.9 1124.9,738.5 1134.3,723.6 C1143.6,708.8 1138.7,716.0 1149.3,702.1 C1159.8,688.2 1154.3,695.0 1165.9,681.9 C1177.5,668.9 1171.6,675.3 1184.0,663.0 C1196.5,650.6 1190.2,656.7 1203.4,645.0 C1216.6,633.3 1209.9,639.1 1223.7,627.9 C1237.5,616.7 1230.5,622.2 1244.8,611.4 C1259.0,600.6 1251.9,606.0 1266.3,595.4 C1280.8,584.9 1273.6,590.1 1288.2,579.7 C1302.8,569.4 1295.6,574.6 1310.1,564.2 C1324.6,553.9 1317.5,559.1 1331.8,548.7 C1346.1,538.2 1339.2,543.6 1353.0,532.8 C1366.8,521.9 1360.2,527.6 1373.3,516.2 C1386.4,504.7 1380.2,510.7 1392.3,498.5 C1404.5,486.2 1398.8,492.7 1409.7,479.3 C1420.6,465.9 1415.5,472.9 1425.1,458.3 C1434.6,443.7 1430.1,451.2 1438.4,435.6 C1446.6,420.0 1442.8,427.9 1449.8,411.5 C1456.8,395.0 1453.6,403.3 1459.4,386.2 C1465.3,369.0 1462.6,377.7 1467.4,360.0 C1472.1,342.4 1470.0,351.2 1473.8,333.3 C1477.5,315.4 1475.8,324.3 1478.7,306.3 C1481.6,288.4 1480.3,297.3 1482.4,279.4 C1484.4,261.5 1483.6,270.4 1484.8,252.7 C1486.0,235.0 1485.7,243.8 1486.0,226.3 C1486.4,208.8 1486.5,217.5 1485.9,200.2 C1485.3,182.8 1485.9,191.5 1484.3,174.2 C1482.8,156.9 1483.8,165.6 1481.2,148.3 C1478.6,131.1 1480.2,139.7 1476.4,122.5 C1472.6,105.2 1474.8,113.9 1469.8,96.5 C1464.8,79.2 1464.2,79.2 1461.4,70.5 Z" fill="url(#rib)" fill-opacity="0.86"/>
<path d="M417.6,717.5 H635.5" stroke="#3a3a3a" stroke-width="1.6" fill="none"/>
<path d="M762.8,785.5 H1022.1" stroke="#3a3a3a" stroke-width="1.6" fill="none"/>
<path d="M531.7,882.4 H808.2" stroke="#3a3a3a" stroke-width="1.6" fill="none"/>
<path d="M410.5,1018.0 H686.6" stroke="#3a3a3a" stroke-width="1.6" fill="none"/>
<path d="M48.5,1148.9 H325.3" stroke="#3a3a3a" stroke-width="1.6" fill="none"/>
<path d="M610.8,1201.1 H979.2" stroke="#3a3a3a" stroke-width="1.6" fill="none"/>
<path d="M40.4,1237.5 H480.2" stroke="#3a3a3a" stroke-width="1.6" fill="none"/>
<path d="M198.7,1321.3 H460.2" stroke="#3a3a3a" stroke-width="1.6" fill="none"/>
<path d="M1494.9,787.5 H1766.5" stroke="#3a3a3a" stroke-width="1.6" fill="none"/>
<path d="M998.5,1916.1 H1328.9" stroke="#3a3a3a" stroke-width="1.6" fill="none"/>
<path d="M834.0,961.6 H1200.9" stroke="#3a3a3a" stroke-width="1.6" fill="none"/>
<path d="M809.0,1039.1 H1172.9" stroke="#3a3a3a" stroke-width="1.6" fill="none"/>
<path d="M712.7,1117.1 H1260.1" stroke="#3a3a3a" stroke-width="1.6" fill="none"/>
<path d="M1470.0,324.9 H1848.5" stroke="#3a3a3a" stroke-width="1.6" fill="none"/>
<path d="M1576.9,504.7 H1848.5" stroke="#3a3a3a" stroke-width="1.6" fill="none"/>
<path d="M1377.5,603.6 H1760.7" stroke="#3a3a3a" stroke-width="1.6" fill="none"/>
<path d="M1254.5,702.6 H1525.0" stroke="#3a3a3a" stroke-width="1.6" fill="none"/>
<path d="M1152.8,844.9 H1425.5" stroke="#3a3a3a" stroke-width="1.6" fill="none"/>
<path d="M943.5,1571.7 H1311.5" stroke="#3a3a3a" stroke-width="1.6" fill="none"/>
<circle cx="635.5" cy="710.8" r="25" fill="#1ea7e8"/>
<circle cx="635.5" cy="710.8" r="20" fill="#0b9fe6"/>
<circle cx="762.8" cy="793.0" r="25" fill="#1ea7e8"/>
<circle cx="762.8" cy="793.0" r="20" fill="#0b9fe6"/>
<circle cx="808.2" cy="864.6" r="25" fill="#1ea7e8"/>
<circle cx="808.2" cy="864.6" r="20" fill="#0b9fe6"/>
<circle cx="686.6" cy="999.5" r="25" fill="#1ea7e8"/>
<circle cx="686.6" cy="999.5" r="20" fill="#0b9fe6"/>
<circle cx="325.3" cy="1130.4" r="25" fill="#1ea7e8"/>
<circle cx="325.3" cy="1130.4" r="20" fill="#0b9fe6"/>
<circle cx="610.8" cy="1180.0" r="25" fill="#1ea7e8"/>
<circle cx="610.8" cy="1180.0" r="20" fill="#0b9fe6"/>
<circle cx="480.2" cy="1240.2" r="25" fill="#1ea7e8"/>
<circle cx="480.2" cy="1240.2" r="20" fill="#0b9fe6"/>
<circle cx="460.2" cy="1301.0" r="25" fill="#1ea7e8"/>
<circle cx="460.2" cy="1301.0" r="20" fill="#0b9fe6"/>
<circle cx="1494.9" cy="787.3" r="25" fill="#1ea7e8"/>
<circle cx="1494.9" cy="787.3" r="20" fill="#0b9fe6"/>
<circle cx="998.5" cy="1915.0" r="25" fill="#1ea7e8"/>
<circle cx="998.5" cy="1915.0" r="20" fill="#0b9fe6"/>
<circle cx="834.0" cy="949.7" r="25" fill="#8d3d9c"/>
<circle cx="834.0" cy="949.7" r="20" fill="#7a1a8a"/>
<circle cx="809.0" cy="1034.5" r="25" fill="#8d3d9c"/>
<circle cx="809.0" cy="1034.5" r="20" fill="#7a1a8a"/>
<circle cx="712.7" cy="1104.3" r="25" fill="#8d3d9c"/>
<circle cx="712.7" cy="1104.3" r="20" fill="#7a1a8a"/>
<circle cx="1576.9" cy="505.4" r="25" fill="#8d3d9c"/>
<circle cx="1576.9" cy="505.4" r="20" fill="#7a1a8a"/>
<circle cx="1377.5" cy="604.7" r="25" fill="#8d3d9c"/>
<circle cx="1377.5" cy="604.7" r="20" fill="#7a1a8a"/>
<circle cx="1254.5" cy="703.5" r="25" fill="#8d3d9c"/>
<circle cx="1254.5" cy="703.5" r="20" fill="#7a1a8a"/>
<circle cx="1152.8" cy="839.5" r="25" fill="#8d3d9c"/>
<circle cx="1152.8" cy="839.5" r="20" fill="#7a1a8a"/>
<circle cx="943.8" cy="1569.0" r="25" fill="#8d3d9c"/>
<circle cx="943.8" cy="1569.0" r="20" fill="#7a1a8a"/>
<rect x="417.6" y="661.4" width="168.3" height="56.6" fill="none" stroke="#35aee0" stroke-width="1.5"/>
<text x="418.2" y="710.8" font-size="56.5" font-weight="500" letter-spacing="-0.9" fill="#000">幼儿园</text>
<rect x="798.2" y="729.4" width="223.9" height="56.6" fill="none" stroke="#35aee0" stroke-width="1.5"/>
<text x="798.8" y="778.8" font-size="56.5" font-weight="500" letter-spacing="-0.9" fill="#000">社区医院</text>
<rect x="531.7" y="826.3" width="223.9" height="56.6" fill="none" stroke="#35aee0" stroke-width="1.5"/>
<text x="532.3" y="875.7" font-size="56.5" font-weight="500" letter-spacing="-0.9" fill="#000">园丁小区</text>
<rect x="410.5" y="961.9" width="223.9" height="56.6" fill="none" stroke="#35aee0" stroke-width="1.5"/>
<text x="411.1" y="1011.3" font-size="56.5" font-weight="500" letter-spacing="-0.9" fill="#000">人才公寓</text>
<rect x="48.5" y="1092.8" width="223.9" height="56.6" fill="none" stroke="#35aee0" stroke-width="1.5"/>
<text x="49.1" y="1142.2" font-size="56.5" font-weight="500" letter-spacing="-0.9" fill="#000">园丁小区</text>
<rect x="755.3" y="1145.0" width="223.9" height="56.6" fill="none" stroke="#35aee0" stroke-width="1.5"/>
<text x="755.9" y="1194.4" font-size="56.5" font-weight="500" letter-spacing="-0.9" fill="#000">商务中心</text>
<rect x="40.4" y="1181.4" width="335.1" height="56.6" fill="none" stroke="#35aee0" stroke-width="1.5"/>
<text x="41.0" y="1230.8" font-size="56.5" font-weight="500" letter-spacing="-0.9" fill="#000">培训体验中心</text>
<rect x="198.7" y="1265.2" width="223.9" height="56.6" fill="none" stroke="#35aee0" stroke-width="1.5"/>
<text x="199.3" y="1314.6" font-size="56.5" font-weight="500" letter-spacing="-0.9" fill="#000">商业中心</text>
<rect x="1542.6" y="731.4" width="223.9" height="56.6" fill="none" stroke="#35aee0" stroke-width="1.5"/>
<text x="1543.2" y="780.8" font-size="56.5" font-weight="500" letter-spacing="-0.9" fill="#000">居住小区</text>
<rect x="1105.0" y="1860.0" width="223.9" height="56.6" fill="none" stroke="#35aee0" stroke-width="1.5"/>
<text x="1105.6" y="1909.4" font-size="56.5" font-weight="500" letter-spacing="-0.9" fill="#000">居住小区</text>
<rect x="977.0" y="905.5" width="223.9" height="56.6" fill="none" stroke="#a45bb0" stroke-width="1.5"/>
<text x="977.6" y="954.9" font-size="56.5" font-weight="500" letter-spacing="-0.9" fill="#000">数据中心</text>
<rect x="949.0" y="983.0" width="223.9" height="56.6" fill="none" stroke="#a45bb0" stroke-width="1.5"/>
<text x="949.6" y="1032.4" font-size="56.5" font-weight="500" letter-spacing="-0.9" fill="#000">展示中心</text>
<rect x="925.0" y="1061.0" width="335.1" height="56.6" fill="none" stroke="#a45bb0" stroke-width="1.5"/>
<text x="925.6" y="1110.4" font-size="56.5" font-weight="500" letter-spacing="-0.9" fill="#000">双创孵化中心</text>
<rect x="1569.0" y="268.8" width="279.5" height="56.6" fill="none" stroke="#a45bb0" stroke-width="1.5"/>
<text x="1569.6" y="318.2" font-size="56.5" font-weight="500" letter-spacing="-0.9" fill="#000">创业产业带</text>
<rect x="1624.6" y="448.6" width="223.9" height="56.6" fill="none" stroke="#a45bb0" stroke-width="1.5"/>
<text x="1625.2" y="498.0" font-size="56.5" font-weight="500" letter-spacing="-0.9" fill="#000">国际学校</text>
<rect x="1425.6" y="547.5" width="335.1" height="56.6" fill="none" stroke="#a45bb0" stroke-width="1.5"/>
<text x="1426.2" y="596.9" font-size="56.5" font-weight="500" letter-spacing="-0.9" fill="#000">科技服务中心</text>
<rect x="1301.1" y="646.5" width="223.9" height="56.6" fill="none" stroke="#a45bb0" stroke-width="1.5"/>
<text x="1301.7" y="695.9" font-size="56.5" font-weight="500" letter-spacing="-0.9" fill="#000">科研中心</text>
<rect x="1201.6" y="788.8" width="223.9" height="56.6" fill="none" stroke="#a45bb0" stroke-width="1.5"/>
<text x="1202.2" y="838.2" font-size="56.5" font-weight="500" letter-spacing="-0.9" fill="#000">产业工坊</text>
<rect x="1087.6" y="1515.6" width="223.9" height="56.6" fill="none" stroke="#a45bb0" stroke-width="1.5"/>
<text x="1088.2" y="1565.0" font-size="56.5" font-weight="500" letter-spacing="-0.9" fill="#000">健康中心</text>
<text x="2057.3" y="259.5" font-size="52.0" font-weight="500" fill="#000" letter-spacing="0.15">项目地块规划</text>
<text x="2366.0" y="270.0" font-size="78.0" font-weight="500" fill="#d7141a" letter-spacing="0.30">四大核心产业</text>
<text x="2849.0" y="270.0" font-size="78.0" font-weight="500" fill="#d7141a" letter-spacing="0.00">，</text>
<text x="2906.0" y="270.0" font-size="78.0" font-weight="500" fill="#d7141a" letter-spacing="-0.30">四大配套服务</text>
<text x="3387.0" y="270.0" font-size="78.0" font-weight="500" fill="#d7141a" letter-spacing="0.00">，</text>
<text x="3445.0" y="270.0" font-size="78.0" font-weight="500" fill="#d7141a" letter-spacing="0.00">构建十大</text>
<text x="1956.5" y="360.0" font-size="78.0" font-weight="500" fill="#d7141a" letter-spacing="-1.50">中心</text>
<text x="2122.0" y="350.5" font-size="52.0" font-weight="500" fill="#000" letter-spacing="0.00">，</text>
<text x="2157.5" y="350.5" font-size="52.0" font-weight="500" fill="#000" letter-spacing="-1.80">沿城市主干道构建创新创业产业带。</text>
<rect x="2791.3" y="530.0" width="10.7" height="76.0" fill="#7fccf3"/>
<rect x="2312.0" y="595.6" width="992.3" height="10.8" fill="#7fccf3"/>
<rect x="2312.0" y="600.0" width="9.7" height="62.0" fill="#7fccf3"/>
<rect x="2653.6" y="600.0" width="9.7" height="62.0" fill="#7fccf3"/>
<rect x="2972.4" y="600.0" width="9.6" height="62.0" fill="#7fccf3"/>
<rect x="3294.7" y="600.0" width="9.6" height="62.0" fill="#7fccf3"/>
<rect x="2317.5" y="770.0" width="7.1" height="54.2" fill="#7fccf3"/>
<rect x="2238.8" y="817.0" width="160.9" height="7.2" fill="#7fccf3"/>
<rect x="2238.8" y="817.0" width="7.2" height="51.0" fill="#7fccf3"/>
<rect x="2392.5" y="817.0" width="7.2" height="51.0" fill="#7fccf3"/>
<rect x="2650.8" y="770.0" width="7.2" height="54.2" fill="#7fccf3"/>
<rect x="2572.2" y="817.0" width="161.6" height="7.2" fill="#7fccf3"/>
<rect x="2572.2" y="817.0" width="7.2" height="51.0" fill="#7fccf3"/>
<rect x="2726.6" y="817.0" width="7.2" height="51.0" fill="#7fccf3"/>
<rect x="2966.0" y="770.0" width="6.8" height="54.2" fill="#7fccf3"/>
<rect x="2886.4" y="817.0" width="161.8" height="7.2" fill="#7fccf3"/>
<rect x="2886.4" y="817.0" width="7.2" height="51.0" fill="#7fccf3"/>
<rect x="3041.0" y="817.0" width="7.2" height="51.0" fill="#7fccf3"/>
<rect x="3297.2" y="770.0" width="7.1" height="98.0" fill="#7fccf3"/>
<rect x="2796.8" y="1436.0" width="9.6" height="76.0" fill="#93d49b"/>
<rect x="2203.0" y="1502.4" width="1218.3" height="9.6" fill="#93d49b"/>
<rect x="2203.0" y="1505.0" width="9.3" height="71.0" fill="#93d49b"/>
<rect x="2677.7" y="1505.0" width="9.3" height="76.0" fill="#93d49b"/>
<rect x="3093.3" y="1505.0" width="10.4" height="76.0" fill="#93d49b"/>
<rect x="3411.3" y="1505.0" width="10.0" height="76.0" fill="#93d49b"/>
<rect x="2195.0" y="1686.0" width="6.5" height="51.8" fill="#93d49b"/>
<rect x="2115.3" y="1731.5" width="162.0" height="6.3" fill="#93d49b"/>
<rect x="2115.3" y="1731.5" width="6.6" height="52.5" fill="#93d49b"/>
<rect x="2270.7" y="1731.5" width="6.6" height="52.5" fill="#93d49b"/>
<rect x="2683.6" y="1690.0" width="6.6" height="47.8" fill="#93d49b"/>
<rect x="2604.2" y="1731.5" width="162.1" height="6.3" fill="#93d49b"/>
<rect x="2604.2" y="1731.5" width="6.6" height="52.5" fill="#93d49b"/>
<rect x="2759.7" y="1731.5" width="6.6" height="52.5" fill="#93d49b"/>
<rect x="3050.2" y="1690.0" width="6.5" height="47.8" fill="#93d49b"/>
<rect x="2971.3" y="1731.5" width="161.4" height="6.3" fill="#93d49b"/>
<rect x="2971.3" y="1731.5" width="6.6" height="52.5" fill="#93d49b"/>
<rect x="3126.1" y="1731.5" width="6.6" height="52.5" fill="#93d49b"/>
<rect x="3410.0" y="1690.0" width="6.7" height="47.8" fill="#93d49b"/>
<rect x="3260.3" y="1731.5" width="303.0" height="6.3" fill="#93d49b"/>
<rect x="3260.3" y="1731.5" width="6.6" height="52.5" fill="#93d49b"/>
<rect x="3556.7" y="1731.5" width="6.6" height="52.5" fill="#93d49b"/>
<rect x="3410.0" y="1731.0" width="6.7" height="53.0" fill="#93d49b"/>
<rect x="2433.4" y="386.6" width="687.6" height="144.1" rx="46.0" fill="#f9c6e4" stroke="#b4b4b4" stroke-width="3.2"/>
<text transform="translate(2780.0,498.0) scale(1,1.000)" font-size="104.3" font-weight="900" text-anchor="middle" fill="#000">四大核心产业</text>
<rect x="2539.8" y="1291.2" width="530.1" height="145.2" rx="46.0" fill="#fffab6" stroke="#b4b4b4" stroke-width="3.2"/>
<text transform="translate(2793.5,1405.5) scale(1,1.010)" font-size="103.7" font-weight="900" text-anchor="middle" fill="#000">四大配套</text>
<rect x="2166.0" y="660.2" width="302.6" height="110.5" rx="42.0" fill="#b2e2f8" stroke="#b4b4b4" stroke-width="3.2"/>
<text transform="translate(2323.8,738.5) scale(1,0.985)" font-size="62.7" font-weight="900" text-anchor="middle" fill="#000">双创产业</text>
<rect x="2499.4" y="660.2" width="294.7" height="110.5" rx="42.0" fill="#b2e2f8" stroke="#b4b4b4" stroke-width="3.2"/>
<text transform="translate(2644.8,738.5) scale(1,0.985)" font-size="62.7" font-weight="900" text-anchor="middle" fill="#000">科研产业</text>
<rect x="2823.4" y="660.2" width="282.3" height="110.5" rx="42.0" fill="#b2e2f8" stroke="#b4b4b4" stroke-width="3.2"/>
<text transform="translate(2965.1,738.5) scale(1,0.985)" font-size="62.7" font-weight="900" text-anchor="middle" fill="#000">教育产业</text>
<rect x="3142.1" y="660.2" width="295.5" height="110.5" rx="42.0" fill="#b2e2f8" stroke="#b4b4b4" stroke-width="3.2"/>
<text transform="translate(3285.3,738.5) scale(1,0.985)" font-size="62.7" font-weight="900" text-anchor="middle" fill="#000">健康产业</text>
<rect x="2005.3" y="1575.2" width="411.3" height="110.8" rx="42.0" fill="#bfe5c5" stroke="#b4b4b4" stroke-width="3.2"/>
<text transform="translate(2204.4,1657.5) scale(1,1.020)" font-size="62.0" font-weight="900" text-anchor="middle" fill="#000">智能城市配套</text>
<rect x="2458.5" y="1580.2" width="456.1" height="110.8" rx="42.0" fill="#bfe5c5" stroke="#b4b4b4" stroke-width="3.2"/>
<text transform="translate(2679.1,1657.5) scale(1,1.020)" font-size="62.0" font-weight="900" text-anchor="middle" fill="#000">商业、商务配套</text>
<rect x="2954.3" y="1580.2" width="286.6" height="110.8" rx="42.0" fill="#bfe5c5" stroke="#b4b4b4" stroke-width="3.2"/>
<text transform="translate(3092.2,1657.5) scale(1,1.020)" font-size="62.0" font-weight="900" text-anchor="middle" fill="#000">社区配套</text>
<rect x="3273.8" y="1580.2" width="287.2" height="110.8" rx="42.0" fill="#bfe5c5" stroke="#b4b4b4" stroke-width="3.2"/>
<text transform="translate(3411.7,1657.5) scale(1,1.020)" font-size="62.0" font-weight="900" text-anchor="middle" fill="#000">居住配套</text>
<rect x="2197.5" y="867.9" width="90.1" height="290.8" fill="#fffbcf" stroke="#c9c9c9" stroke-width="3"/>
<text font-size="63" font-weight="500" text-anchor="middle" fill="#000"><tspan x="2242.6" y="941.0">孵</tspan><tspan x="2242.6" y="1002.6">化</tspan><tspan x="2242.6" y="1064.2">中</tspan><tspan x="2242.6" y="1125.8">心</tspan></text>
<rect x="2354.9" y="867.9" width="89.4" height="290.8" fill="#fffbcf" stroke="#c9c9c9" stroke-width="3"/>
<text font-size="63" font-weight="500" text-anchor="middle" fill="#000"><tspan x="2399.6" y="941.0">创</tspan><tspan x="2399.6" y="1002.6">业</tspan><tspan x="2399.6" y="1064.2">中</tspan><tspan x="2399.6" y="1125.8">心</tspan></text>
<rect x="2531.2" y="867.9" width="89.4" height="403.5" fill="#fffbcf" stroke="#c9c9c9" stroke-width="3"/>
<text font-size="63" font-weight="500" text-anchor="middle" fill="#000"><tspan x="2575.9" y="941.0">科</tspan><tspan x="2575.9" y="1002.6">技</tspan><tspan x="2575.9" y="1064.2">服</tspan><tspan x="2575.9" y="1125.8">务</tspan><tspan x="2575.9" y="1187.4">中</tspan><tspan x="2575.9" y="1249.0">心</tspan></text>
<rect x="2687.5" y="867.9" width="89.4" height="403.5" fill="#fffbcf" stroke="#c9c9c9" stroke-width="3"/>
<text font-size="63" font-weight="500" text-anchor="middle" fill="#000"><tspan x="2732.2" y="941.0">人</tspan><tspan x="2732.2" y="1002.6">才</tspan><tspan x="2732.2" y="1064.2">服</tspan><tspan x="2732.2" y="1125.8">务</tspan><tspan x="2732.2" y="1187.4">中</tspan><tspan x="2732.2" y="1249.0">心</tspan></text>
<rect x="2845.6" y="867.9" width="89.4" height="403.5" fill="#fffbcf" stroke="#c9c9c9" stroke-width="3"/>
<text font-size="63" font-weight="500" text-anchor="middle" fill="#000"><tspan x="2890.3" y="941.0">培</tspan><tspan x="2890.3" y="1002.6">训</tspan><tspan x="2890.3" y="1064.2">体</tspan><tspan x="2890.3" y="1125.8">验</tspan><tspan x="2890.3" y="1187.4">中</tspan><tspan x="2890.3" y="1249.0">心</tspan></text>
<rect x="3003.0" y="867.9" width="89.4" height="290.8" fill="#fffbcf" stroke="#c9c9c9" stroke-width="3"/>
<text font-size="63" font-weight="500" text-anchor="middle" fill="#000"><tspan x="3047.7" y="941.0">教</tspan><tspan x="3047.7" y="1002.6">育</tspan><tspan x="3047.7" y="1064.2">中</tspan><tspan x="3047.7" y="1125.8">心</tspan></text>
<rect x="3254.1" y="867.9" width="90.1" height="290.8" fill="#fffbcf" stroke="#c9c9c9" stroke-width="3"/>
<text font-size="63" font-weight="500" text-anchor="middle" fill="#000"><tspan x="3299.1" y="941.0">健</tspan><tspan x="3299.1" y="1002.6">康</tspan><tspan x="3299.1" y="1064.2">中</tspan><tspan x="3299.1" y="1125.8">心</tspan></text>
<rect x="2074.3" y="1783.3" width="90.1" height="290.4" fill="#cdebfc" stroke="#c9c9c9" stroke-width="3"/>
<text font-size="63" font-weight="500" text-anchor="middle" fill="#000"><tspan x="2119.4" y="1855.0">展</tspan><tspan x="2119.4" y="1916.6">示</tspan><tspan x="2119.4" y="1978.2">中</tspan><tspan x="2119.4" y="2039.8">心</tspan></text>
<rect x="2231.7" y="1783.3" width="90.1" height="290.4" fill="#cdebfc" stroke="#c9c9c9" stroke-width="3"/>
<text font-size="63" font-weight="500" text-anchor="middle" fill="#000"><tspan x="2276.8" y="1855.0">数</tspan><tspan x="2276.8" y="1916.6">据</tspan><tspan x="2276.8" y="1978.2">中</tspan><tspan x="2276.8" y="2039.8">心</tspan></text>
<rect x="2563.3" y="1783.3" width="90.1" height="290.4" fill="#cdebfc" stroke="#c9c9c9" stroke-width="3"/>
<text font-size="63" font-weight="500" text-anchor="middle" fill="#000"><tspan x="2608.4" y="1855.0">商</tspan><tspan x="2608.4" y="1916.6">务</tspan><tspan x="2608.4" y="1978.2">中</tspan><tspan x="2608.4" y="2039.8">心</tspan></text>
<rect x="2720.7" y="1783.3" width="90.1" height="290.4" fill="#cdebfc" stroke="#c9c9c9" stroke-width="3"/>
<text font-size="63" font-weight="500" text-anchor="middle" fill="#000"><tspan x="2765.8" y="1855.0">商</tspan><tspan x="2765.8" y="1916.6">业</tspan><tspan x="2765.8" y="1978.2">中</tspan><tspan x="2765.8" y="2039.8">心</tspan></text>
<rect x="2929.3" y="1783.3" width="90.5" height="290.4" fill="#cdebfc" stroke="#c9c9c9" stroke-width="3"/>
<text font-size="63" font-weight="500" text-anchor="middle" fill="#000"><tspan x="2974.6" y="1855.0">社</tspan><tspan x="2974.6" y="1916.6">区</tspan><tspan x="2974.6" y="1978.2">医</tspan><tspan x="2974.6" y="2039.8">院</tspan></text>
<rect x="3087.8" y="1783.3" width="89.4" height="290.4" fill="#cdebfc" stroke="#c9c9c9" stroke-width="3"/>
<text font-size="63" font-weight="500" text-anchor="middle" fill="#000"><tspan x="3132.5" y="1855.0">幼</tspan><tspan x="3132.5" y="1916.6">儿</tspan><tspan x="3132.5" y="1978.2">园</tspan></text>
<rect x="3214.7" y="1783.3" width="90.2" height="290.4" fill="#cdebfc" stroke="#c9c9c9" stroke-width="3"/>
<text font-size="63" font-weight="500" text-anchor="middle" fill="#000"><tspan x="3259.8" y="1855.0">居</tspan><tspan x="3259.8" y="1916.6">住</tspan><tspan x="3259.8" y="1978.2">小</tspan><tspan x="3259.8" y="2039.8">区</tspan></text>
<rect x="3367.5" y="1783.3" width="89.8" height="290.4" fill="#cdebfc" stroke="#c9c9c9" stroke-width="3"/>
<text font-size="63" font-weight="500" text-anchor="middle" fill="#000"><tspan x="3412.4" y="1855.0">园</tspan><tspan x="3412.4" y="1916.6">丁</tspan><tspan x="3412.4" y="1978.2">小</tspan><tspan x="3412.4" y="2039.8">区</tspan></text>
<rect x="3513.4" y="1783.3" width="89.4" height="290.4" fill="#cdebfc" stroke="#c9c9c9" stroke-width="3"/>
<text font-size="63" font-weight="500" text-anchor="middle" fill="#000"><tspan x="3558.1" y="1855.0">人</tspan><tspan x="3558.1" y="1916.6">才</tspan><tspan x="3558.1" y="1978.2">公</tspan><tspan x="3558.1" y="2039.8">寓</tspan></text>
</svg></body></html>
